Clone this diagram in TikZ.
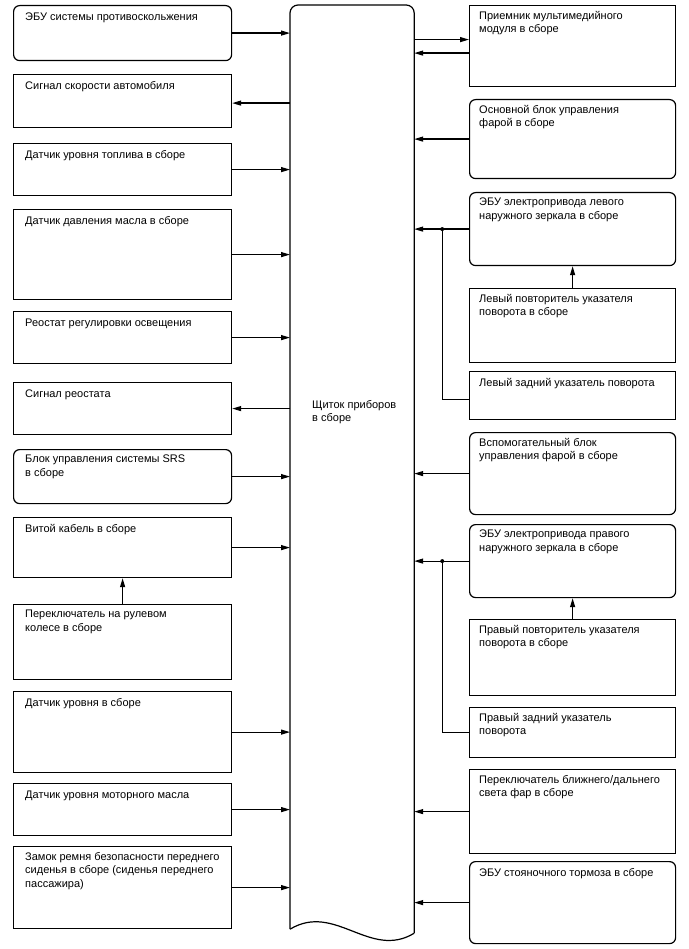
\documentclass[tikz,border=0pt]{standalone}
\usepackage{fontspec}
\setmainfont{Liberation Sans}
\usepackage{tikz}
\usetikzlibrary{positioning, arrows.meta}

\tikzset{
    blk/.style={draw, line width=1.2pt, anchor=north west, inner sep=0pt, minimum height=#1},
    lblk/.style={blk=#1, minimum width=218pt},
    rblk/.style={blk=#1, minimum width=206pt},
    txt/.style={inner sep=0pt, align=left, font=\fontsize{11}{13.5}\selectfont, execute at begin node=\strut},
    arr/.style={line width=1.2pt, -{Triangle[length=9pt,width=5pt]}},
    wire/.style={line width=1.2pt}
}

\begin{document}
\begin{tikzpicture}[x=1pt, y=-1pt]
    \useasboundingbox (0,0) rectangle (688,949);

    \node[blk=927pt, minimum width=123pt, draw=none] (panel) at (290,5) {};
    \draw[wire, rounded corners=8pt] ([yshift=4pt]panel.south west) -- (panel.north west)
        -- (panel.north east) -- (panel.south east);
    \draw[wire] (panel.south east) .. controls (370,960) and (335,902) .. ([yshift=4pt]panel.south west);
    \node[txt, execute at begin node={}, anchor=north west] (panelT) at (312,400) {Щиток приборов\\в сборе};

    \node[lblk=55pt, rounded corners=6pt] (abs) at (13,5) {};
    \node[txt, below right=6pt and 12pt of abs.north west] (absT) {ЭБУ системы противоскольжения};
    \node[lblk=53pt] (speed) at (13,74) {};
    \node[txt, below right=6pt and 12pt of speed.north west] (speedT) {Сигнал скорости автомобиля};
    \node[lblk=52pt] (fuel) at (13,143) {};
    \node[txt, below right=6pt and 12pt of fuel.north west] (fuelT) {Датчик уровня топлива в сборе};
    \node[lblk=90pt] (oilp) at (13,209) {};
    \node[txt, below right=6pt and 12pt of oilp.north west] (oilpT) {Датчик давления масла в сборе};
    \node[lblk=52pt] (rheo) at (13,311) {};
    \node[txt, below right=6pt and 12pt of rheo.north west] (rheoT) {Реостат регулировки освещения};
    \node[lblk=52pt] (rsig) at (13,382) {};
    \node[txt, below right=6pt and 12pt of rsig.north west] (rsigT) {Сигнал реостата};
    \node[lblk=54pt, rounded corners=6pt] (srs) at (13,449) {};
    \node[txt, below right=6pt and 12pt of srs.north west] (srsT) {Блок управления системы SRS\\в сборе};
    \node[lblk=60pt] (spiral) at (13,517) {};
    \node[txt, below right=6pt and 12pt of spiral.north west] (spiralT) {Витой кабель в сборе};
    \node[lblk=75pt] (swsw) at (13,604) {};
    \node[txt, below right=6pt and 12pt of swsw.north west] (swswT) {Переключатель на рулевом\\колесе в сборе};
    \node[lblk=81pt] (level) at (13,691) {};
    \node[txt, below right=6pt and 12pt of level.north west] (levelT) {Датчик уровня в сборе};
    \node[lblk=52pt] (eoil) at (13,783) {};
    \node[txt, below right=6pt and 12pt of eoil.north west] (eoilT) {Датчик уровня моторного масла};
    \node[lblk=82pt] (belt) at (13,846) {};
    \node[txt, below right=6pt and 12pt of belt.north west] (beltT) {Замок ремня безопасности переднего\\сиденья в сборе (сиденья переднего\\пассажира)};

    \node[rblk=81pt] (media) at (469,5) {};
    \node[txt, below right=6pt and 10pt of media.north west] (mediaT) {Приемник мультимедийного\\модуля в сборе};
    \node[rblk=79pt, rounded corners=6pt] (mainhl) at (469,99) {};
    \node[txt, below right=6pt and 10pt of mainhl.north west] (mainhlT) {Основной блок управления\\фарой в сборе};
    \node[rblk=73pt, rounded corners=6pt] (lmirror) at (469,192) {};
    \node[txt, below right=6pt and 10pt of lmirror.north west] (lmirrorT) {ЭБУ электропривода левого\\наружного зеркала в сборе};
    \node[rblk=74pt] (lrep) at (469,288) {};
    \node[txt, below right=6pt and 10pt of lrep.north west] (lrepT) {Левый повторитель указателя\\поворота в сборе};
    \node[rblk=48pt] (lrear) at (469,371) {};
    \node[txt, below right=6pt and 10pt of lrear.north west] (lrearT) {Левый задний указатель поворота};
    \node[rblk=82pt, rounded corners=6pt] (auxhl) at (469,432) {};
    \node[txt, below right=6pt and 10pt of auxhl.north west] (auxhlT) {Вспомогательный блок\\управления фарой в сборе};
    \node[rblk=73pt, rounded corners=6pt] (rmirror) at (469,524) {};
    \node[txt, below right=6pt and 10pt of rmirror.north west] (rmirrorT) {ЭБУ электропривода правого\\наружного зеркала в сборе};
    \node[rblk=76pt] (rrep) at (469,619) {};
    \node[txt, below right=6pt and 10pt of rrep.north west] (rrepT) {Правый повторитель указателя\\поворота в сборе};
    \node[rblk=50pt] (rrear) at (469,707) {};
    \node[txt, below right=6pt and 10pt of rrear.north west] (rrearT) {Правый задний указатель\\поворота};
    \node[rblk=84pt] (beam) at (469,769) {};
    \node[txt, below right=6pt and 10pt of beam.north west] (beamT) {Переключатель ближнего/дальнего\\света фар в сборе};
    \node[rblk=82pt, rounded corners=6pt] (epb) at (469,861) {};
    \node[txt, below right=6pt and 10pt of epb.north west] (epbT) {ЭБУ стояночного тормоза в сборе};

    \draw[arr] (abs.east) -- (abs.east -| panel.west);
    \draw[arr] ([yshift=-2pt]speed.east -| panel.west) -- ([yshift=-2pt]speed.east);
    \draw[arr] (fuel.east) -- (fuel.east -| panel.west);
    \draw[arr] (oilp.east) -- (oilp.east -| panel.west);
    \draw[arr] (rheo.east) -- (rheo.east -| panel.west);
    \draw[arr] (rsig.east -| panel.west) -- (rsig.east);
    \draw[arr] (srs.east) -- (srs.east -| panel.west);
    \draw[arr] (spiral.east) -- (spiral.east -| panel.west);
    \draw[arr] (swsw.north) -- (spiral.south);
    \draw[arr] (level.east) -- (level.east -| panel.west);
    \draw[arr] (eoil.east) -- (eoil.east -| panel.west);
    \draw[arr] (belt.east) -- (belt.east -| panel.west);

    \draw[arr] ([yshift=6.5pt]media.west -| panel.east) -- ([yshift=6.5pt]media.west);
    \draw[arr] ([yshift=-7pt]media.west) -- ([yshift=-7pt]media.west -| panel.east);
    \draw[arr] (mainhl.west) -- (mainhl.west -| panel.east);
    \draw[arr] (lmirror.west) -- (lmirror.west -| panel.east);
    \coordinate (jl) at ([xshift=28pt]lmirror.west -| panel.east);
    \draw[wire] ([yshift=-4pt]lrear.west) -| (jl);
    \fill (jl) circle (2pt);
    \draw[arr] (lrep.north) -- (lmirror.south);
    \draw[arr] (auxhl.west) -- (auxhl.west -| panel.east);
    \draw[arr] (rmirror.west) -- (rmirror.west -| panel.east);
    \coordinate (jr) at ([xshift=28pt]rmirror.west -| panel.east);
    \draw[wire] (rrear.west) -| (jr);
    \fill (jr) circle (2pt);
    \draw[arr] (rrep.north) -- (rmirror.south);
    \draw[arr] (beam.west) -- (beam.west -| panel.east);
    \draw[arr] (epb.west) -- (epb.west -| panel.east);
\end{tikzpicture}
\end{document}
